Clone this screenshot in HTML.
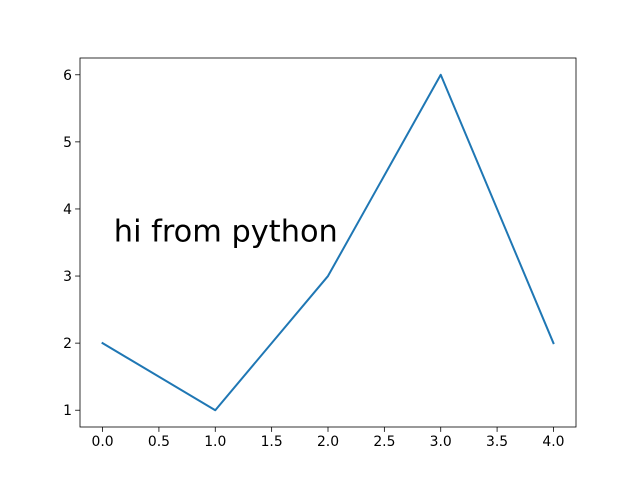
<!DOCTYPE html>
<html><head><meta charset="utf-8"><style>
html,body{margin:0;padding:0;background:#fff;}
svg text{font-family:"DejaVu Sans","Liberation Sans",sans-serif;}
</style></head><body>
<svg id="chart" width="640" height="480" xmlns="http://www.w3.org/2000/svg">
<rect x="0" y="0" width="640" height="480" fill="#fff"/>
<g id="plot"></g>
</svg>
<script>
const xValues = [0, 1, 2, 3, 4];
const yValues = [2, 1, 3, 6, 2];
const xTicks = [0, 0.5, 1, 1.5, 2, 2.5, 3, 3.5, 4];
const xTickLabels = ["0.0","0.5","1.0","1.5","2.0","2.5","3.0","3.5","4.0"];
const yTicks = [1, 2, 3, 4, 5, 6];
const yTickLabels = ["1","2","3","4","5","6"];
const annotation = {x: 0.1, y: 3.5, text: "hi from python"};

const L=80, R=576, T=58, B=427;
const xmin=-0.2, xmax=4.2, ymin=0.75, ymax=6.25;
const sx = v => L + (v - xmin) / (xmax - xmin) * (R - L);
const sy = v => B - (v - ymin) / (ymax - ymin) * (B - T);
const NS = "http://www.w3.org/2000/svg";
const g = document.getElementById('plot');
function mk(tag, attrs){const e=document.createElementNS(NS,tag);for(const k in attrs)e.setAttribute(k,attrs[k]);g.appendChild(e);return e;}

const frame = mk('rect',{x:L,y:T,width:R-L,height:B-T,fill:'none',stroke:'#000','stroke-width':0.8});



xTicks.forEach((t,i)=>{
  const x=sx(t);
  const tk=mk('line',{x1:x,y1:B,x2:x,y2:B+4.9,stroke:'#000','stroke-width':0.8});
  
  
  const lb=mk('text',{x:x,y:B+19,'font-size':'13.9px','text-anchor':'middle',fill:'#000'});
  lb.textContent=xTickLabels[i];
  
  
});
yTicks.forEach((t,i)=>{
  const y=sy(t);
  const tk=mk('line',{x1:L-4.9,y1:y,x2:L,y2:y,stroke:'#000','stroke-width':0.8});
  
  
  const lb=mk('text',{x:L-8,y:y+5,'font-size':'13.9px','text-anchor':'end',fill:'#000'});
  lb.textContent=yTickLabels[i];
  
  
});

const pts = xValues.map((v,i)=>sx(v)+','+sy(yValues[i])).join(' ');
const line = mk('polyline',{points:pts,fill:'none',stroke:'#1f77b4','stroke-width':2,'stroke-linejoin':'round','stroke-linecap':'square'});



const ann = mk('text',{x:sx(annotation.x),y:sy(annotation.y)-1,'font-size':'30px',textLength:224,lengthAdjust:'spacingAndGlyphs',fill:'#000'});
ann.textContent = annotation.text;


</script>
</body></html>
